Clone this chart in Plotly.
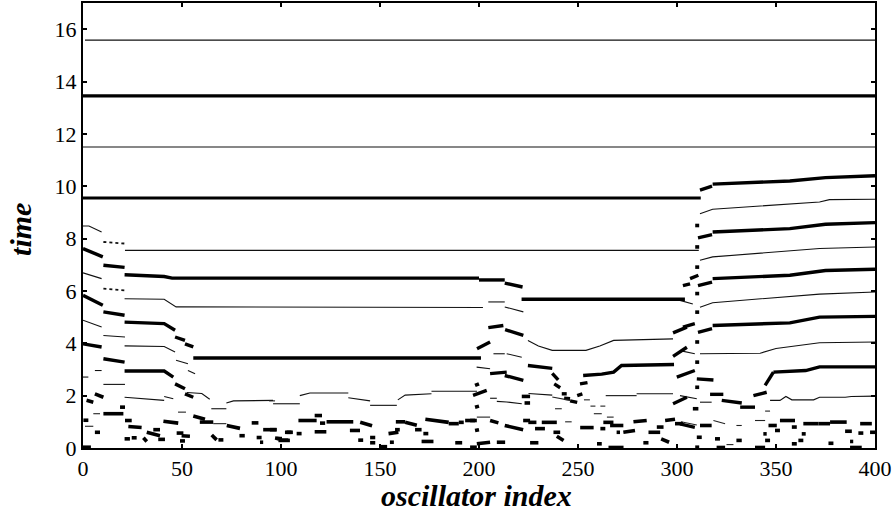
import plotly.graph_objects as go

# Firing lines that span the whole chain: polylines of (oscillator index, time)
full_thick = [
    [(0, 13.45), (400, 13.45)],
    [(0, 9.55), (312, 9.55)],
]
full_thin = [
    [(1, 15.58), (400, 15.58)],
    [(0, 11.5), (400, 11.5)],
]

# Thick firing tracks (strong events)
tracks_thick = [
    [(0, 7.62), (10, 7.3)], [(10.3, 6.98), (21, 6.9)],
    [(21, 6.62), (41, 6.55), (45, 6.49), (200, 6.49)], [(200, 6.42), (213, 6.42)], [(213, 6.3), (222, 6.15)],
    [(0, 5.83), (10, 5.45)], [(10.3, 5.2), (21, 5.07)],
    [(21, 4.81), (41, 4.75), (46.5, 4.5)], [(46.5, 4.24), (51.5, 4.11)], [(51.5, 3.98), (55.7, 3.86)],
    [(55.7, 3.44), (201, 3.44)],
    [(199, 3.79), (205.6, 4.05)], [(204.7, 4.6), (212.3, 4.68)], [(213.2, 4.52), (222.4, 4.3)],
    [(0, 3.98), (9.4, 3.86)], [(10.3, 3.41), (21, 3.28)],
    [(21, 2.94), (41, 2.94), (45.6, 2.71)], [(46.5, 2.45), (51.5, 2.26)], [(51.5, 2.07), (55.7, 1.94)],
    [(197, 2.01), (203.9, 2.2)], [(205.6, 2.84), (214, 2.9)], [(213, 2.77), (222.4, 2.58)],
    [(221.5, 5.68), (304, 5.68)],
    [(224.7, 3.15), (237, 3.04)], [(237, 2.85), (240, 2.6)], [(238, 2.45), (241, 2.3)],
    [(241.8, 2.07), (244.3, 2.07)], [(243, 1.9), (246, 1.88)], [(246, 1.8), (249.6, 1.74)],
    [(249.6, 2.0), (252.2, 2.07)], [(251, 2.45), (254.8, 2.5)],
    [(252.6, 2.77), (262, 2.82), (268, 2.9), (272, 3.15), (298.5, 3.19)],
    [(298, 3.5), (305, 3.85)], [(298, 4.4), (305, 4.62)], [(303, 6.2), (306.6, 6.27)],
    [(306.6, 6.47), (310.8, 6.6)], [(299.9, 2.71), (309, 2.96)], [(298, 1.69), (305, 1.94)],
    [(301.5, 0.92), (309, 0.79)], [(303, 4.62), (309, 4.75)],
    [(311.6, 9.85), (317.7, 10.0)], [(318, 10.08), (357, 10.2), (375, 10.33), (400, 10.4)],
    [(310.6, 8.03), (317.7, 8.15)], [(318, 8.25), (357, 8.38), (375, 8.55), (400, 8.61)],
    [(310.6, 6.2), (317.7, 6.34)], [(318, 6.47), (357, 6.6), (375, 6.78), (400, 6.83)],
    [(310.6, 4.42), (317.7, 4.56)], [(318, 4.68), (340, 4.72), (357, 4.78), (372, 5.0), (400, 5.03)],
    [(310, 2.64), (318.4, 2.6)], [(316.7, 2.05), (323.4, 2.05)], [(322.6, 1.82), (332.7, 1.72)],
    [(331.9, 1.56), (339.4, 1.56)], [(338.6, 2.0), (345.3, 2.13)], [(344.5, 2.39), (348.7, 2.9)],
    [(348.7, 2.9), (365, 2.96), (372, 3.1), (400, 3.1)],
]

# Thin firing tracks (weak events)
tracks_thin = [
    [(0, 8.48), (3, 8.48), (9.4, 8.25)],
    [(21.2, 7.55), (311, 7.55)],
    [(0, 6.69), (9.4, 6.47)],
    [(21, 5.7), (41, 5.68), (47, 5.39), (202, 5.37)], [(204.7, 5.58), (213, 5.58)], [(213, 5.39), (222.4, 5.2)],
    [(0, 4.88), (9.4, 4.62)], [(10.3, 4.3), (21.2, 4.24)],
    [(21, 3.9), (41, 3.88), (46.5, 3.67)], [(47, 3.35), (53, 3.22)], [(53, 2.96), (56.6, 2.84)],
    [(52.5, 2.12), (60, 2.08), (64, 1.86)], [(64.8, 1.5), (72.4, 1.5)], [(72.4, 1.72), (76, 1.8), (96, 1.82)],
    [(96, 1.69), (109.5, 1.69)], [(109.5, 2.0), (114.6, 2.1), (134, 2.1)], [(134, 1.92), (145, 1.8)],
    [(145, 1.63), (158.5, 1.63)], [(159, 1.84), (162.7, 2.02), (176, 2.07)], [(176, 2.17), (199, 2.17)],
    [(0, 2.71), (2.7, 2.71)], [(6, 2.96), (9.4, 2.96)], [(10.3, 2.43), (21.2, 2.43)],
    [(21, 1.94), (30, 1.88), (41, 1.82)], [(41, 1.97), (45.6, 1.88)],
    [(198.8, 3.09), (205.6, 3.03)], [(207.3, 3.6), (213, 3.6)], [(214, 3.6), (221.6, 3.47)],
    [(224.7, 4.11), (230, 3.9), (237, 3.73), (254, 3.73), (261, 3.9), (268, 4.11), (298, 4.17)],
    [(205.6, 1.9), (209, 1.9)], [(209, 1.78), (214, 1.76), (221.6, 1.69)],
    [(225, 2.08), (237, 2.02)], [(264, 2.0), (279.6, 2.0)], [(279.6, 2.07), (298, 2.07)],
    [(301.5, 5.64), (308, 5.5)], [(301.5, 3.72), (309, 3.6)], [(301.5, 2.0), (310, 1.88)],
    [(311.6, 8.95), (318, 9.12), (372, 9.4), (377, 9.49), (400, 9.5)],
    [(311.6, 7.17), (318, 7.3), (372, 7.62), (400, 7.68)],
    [(311.6, 5.38), (318, 5.55), (372, 5.88), (400, 5.96)],
    [(311.6, 3.6), (342, 3.62), (350, 3.8), (372, 4.02), (400, 4.05)],
    [(311.6, 1.75), (317.5, 1.75)],
    [(347, 1.82), (352, 1.82), (355, 1.97), (358, 1.84), (369, 1.84), (372, 1.94),
     (385, 1.94), (388, 1.97), (400, 1.98)],
]

# Dotted runs of sparse firings
tracks_dotted = [
    [(10.3, 7.87), (21.2, 7.81)],
    [(10.3, 6.09), (21.2, 6.02)],
]

# Short isolated firing clusters: (x0, t0, x1, t1)
dashes_thick = [
    (1.8, 1.82, 5.2, 1.75), (6, 2.07, 10.3, 1.94), (10.3, 1.31, 20.4, 1.31), (18.7, 1.56, 21.2, 1.56),
    (0.2, 1.06, 2.7, 1.06), (21.2, 1.05, 24.6, 1.05), (22.9, 0.82, 29.6, 0.78), (6, 0.6, 8.6, 0.6),
    (24.6, 0.39, 27.1, 0.39), (30.5, 0.39, 32.2, 0.25), (32.2, 0.6, 38.9, 0.47), (35.5, 0.7, 38.9, 0.7),
    (38, 0.33, 41.4, 0.33), (40.6, 1.02, 48.1, 0.95), (47.3, 0.57, 50.7, 0.57), (49.8, 0.47, 54, 0.45),
    (55.7, 1.22, 61.6, 1.1), (59, 0.99, 65.8, 0.99), (65, 0.5, 67.5, 0.31), (68.4, 0.31, 70.9, 0.31),
    (72.6, 0.86, 79.3, 0.75), (79, 0.47, 81.7, 0.47), (85.2, 0.96, 88.6, 0.96), (87.7, 0.4, 90.2, 0.4),
    (89.4, 0.22, 91, 0.22), (91, 0.7, 97.8, 0.7), (97.8, 0.36, 100.5, 0.36), (102, 0.6, 106, 0.6),
    (0, 0.03, 4, 0.03), (21, 0.35, 23.7, 0.35), (49, 0.27, 51.5, 0.27), (98.7, 0.29, 104.5, 0.29),
    (117, 1.24, 120.7, 1.24), (108.8, 1.05, 118, 1.05), (119.7, 0.95, 122.3, 0.95), (123, 1.0, 136.5, 1.0),
    (140, 0.98, 146, 0.85), (158, 1.0, 162.7, 1.0), (162.7, 0.98, 168.6, 0.87), (172.9, 1.1, 184.7, 0.98),
    (184.7, 0.93, 189.8, 0.93), (189.8, 0.98, 192.3, 0.98), (193, 1.05, 198, 1.05), (94.4, 0.7, 97.8, 0.7),
    (102.8, 0.6, 105.3, 0.6), (107.9, 0.55, 110.4, 0.55), (117, 0.62, 122.9, 0.62), (134.8, 0.67, 139.9, 0.67),
    (154.3, 0.55, 159.3, 0.6), (157.6, 0.7, 160, 0.7), (167.7, 0.7, 171, 0.7), (171.9, 0.55, 174.4, 0.55),
    (97, 0.38, 99.5, 0.35), (100.3, 0.3, 103.7, 0.3), (139, 0.3, 141.5, 0.3), (145, 0.4, 147.6, 0.4),
    (145, 0.2, 147.6, 0.2), (155, 0.22, 157, 0.22), (171, 0.25, 177, 0.25), (188, 0.2, 191.5, 0.2),
    (150, 0.05, 153.6, 0.05), (198, 2.39, 200, 2.45), (198, 1.56, 200, 1.6), (198, 0.67, 200, 0.7),
    (205.6, 1.05, 209.8, 0.96), (213, 0.86, 222.3, 0.7), (222.3, 1.05, 225.8, 1.05), (224.9, 0.98, 229, 0.98),
    (231.7, 0.98, 239.3, 0.98), (228.3, 0.74, 233.3, 0.74), (237.6, 0.6, 241, 0.6), (239.3, 0.45, 242.7, 0.29),
    (251.1, 0.78, 257.9, 0.78), (261.3, 0.74, 263.8, 0.74), (262.8, 0.98, 267.9, 0.98), (266.2, 0.86, 272.9, 0.86),
    (269.5, 0.6, 271.2, 0.6), (272.9, 0.6, 278.8, 0.67), (278, 1.0, 284.7, 1.05), (285.6, 0.6, 291.5, 0.6),
    (289.8, 0.8, 293.2, 0.8), (294, 1.05, 299, 1.1), (292, 0.35, 296, 0.22), (225.8, 0.2, 230, 0.2),
    (209, 0.22, 213.2, 0.22), (198.9, 0.16, 205.6, 0.22), (195.5, 0.03, 198.9, 0.03), (259.6, 0.16, 262, 0.16),
    (265.4, 0.02, 273, 0.02), (283, 0.2, 285.6, 0.2), (195.5, 1.05, 198.9, 1.05), (221.6, 1.97, 225.8, 1.97),
    (223, 1.72, 225.8, 1.72),
    (299, 0.93, 303, 0.93), (311.6, 0.86, 317.5, 0.86), (346.2, 0.86, 350.4, 0.86), (352, 1.05, 359.6, 1.05),
    (349.5, 0.67, 352, 0.67), (343.6, 0.54, 345.3, 0.54), (358, 0.8, 360.5, 0.8), (363.8, 0.93, 371.4, 0.93),
    (371.4, 0.93, 377.3, 0.93), (377.3, 0.99, 385.7, 0.99), (392.5, 0.93, 398.4, 0.93), (384.9, 0.64, 388.3, 0.64),
    (391.6, 0.57, 394.1, 0.57), (397.5, 0.6, 400, 0.6), (363, 0.54, 365, 0.54), (361.3, 0.29, 363.8, 0.29),
    (358, 0.16, 360.5, 0.16), (344.5, 0.29, 347, 0.29), (376.5, 0.18, 379, 0.18), (387.4, 0.25, 389, 0.25),
    (320, 0.02, 324.3, 0.02), (339.4, 0.02, 344.5, 0.02), (387.4, 0.02, 393.3, 0.02), (330, 0.29, 332.7, 0.29),
    (319.2, 0.35, 321.7, 0.35), (310, 0.41, 312.5, 0.41), (308, 1.5, 310.8, 1.5),
    (309.2, 8.5, 311.2, 8.5), (309.2, 7.68, 311.2, 7.68), (309.2, 6.91, 311.2, 6.91), (309.2, 5.9, 311.2, 5.9),
    (309.2, 5.19, 311.2, 5.19), (309.2, 4.05, 311.2, 4.05), (309.2, 3.28, 311.2, 3.28), (309.2, 2.32, 311.2, 2.32),
    (309.2, 0.03, 311.2, 0.03),
]

dashes_thin = [
    (5.2, 1.31, 8.6, 1.31), (1, 0.83, 5.2, 0.83), (48, 1.37, 52, 1.37), (65.8, 0.93, 72.4, 0.93),
    (253, 1.84, 256, 1.84), (256.3, 1.6, 258.8, 1.6), (261.3, 1.6, 263.8, 1.6), (258, 1.31, 262, 1.31),
    (264.6, 1.18, 268, 1.18), (238.4, 1.5, 241.8, 1.5), (198.9, 1.18, 205.6, 1.18), (243.5, 1.0, 246.8, 1.0),
    (237, 1.95, 246, 1.82), (318.4, 1.05, 324.3, 0.93), (330, 0.86, 332.7, 0.86), (339.4, 1.05, 344.5, 1.05),
    (344.5, 1.41, 347, 1.41), (325, 0.13, 328.5, 0.13), (302, 1.0, 310, 0.88), (94, 1.8, 97, 1.8),
]


def polylines_xy(lines):
    xs, ys = [], []
    for line in lines:
        for x, y in line:
            xs.append(x)
            ys.append(y)
        xs.append(None)
        ys.append(None)
    return xs, ys


def segments_xy(segs):
    return polylines_xy([[(x0, y0), (x1, y1)] for x0, y0, x1, y1 in segs])


fig = go.Figure()


def add(lines, width, color="black", dash="solid"):
    xs, ys = lines
    fig.add_trace(go.Scatter(x=xs, y=ys, mode="lines", hoverinfo="skip",
                             line=dict(color=color, width=width, dash=dash)))


add(polylines_xy(full_thin), 1.1, "#111")
add(polylines_xy(full_thick), 3.2)
add(polylines_xy(tracks_thin), 1.1, "#111")
add(polylines_xy(tracks_dotted), 1.8, "#111", "dot")
add(polylines_xy(tracks_thick), 3.4)
add(segments_xy(dashes_thin), 1.1, "#222")
add(segments_xy(dashes_thick), 3.6)

serif = "Liberation Serif, Times New Roman, serif"
axis_common = dict(
    showline=True, linecolor="black", linewidth=2, mirror="ticks",
    ticks="inside", ticklen=4, tickwidth=1.5, tickcolor="black",
    showgrid=False, zeroline=False, automargin=False,
    tickfont=dict(family=serif, size=22, color="black"),
)
title_font = dict(family=serif, size=30, color="black", weight="bold", style="italic")

fig.update_layout(
    width=896, height=514,
    margin=dict(l=83, r=21, t=3, b=66),
    paper_bgcolor="white", plot_bgcolor="white",
    showlegend=False,
    xaxis=dict(range=[0, 400], tickvals=[0, 50, 100, 150, 200, 250, 300, 350, 400], **axis_common),
    yaxis=dict(range=[0, 17], tickvals=[0, 2, 4, 6, 8, 10, 12, 14, 16], **axis_common),
)

# Axis titles placed as annotations so they sit clear of the tick labels
fig.add_annotation(text="oscillator index", xref="paper", yref="paper", x=0.497, y=0,
                   xanchor="center", yanchor="bottom", yshift=-65, borderpad=0,
                   showarrow=False, font=title_font)
fig.add_annotation(text="time", xref="paper", yref="paper", x=0, y=0.49, textangle=-90,
                   xanchor="center", yanchor="middle", xshift=-62, showarrow=False, font=title_font)

fig.write_html("out.html")
